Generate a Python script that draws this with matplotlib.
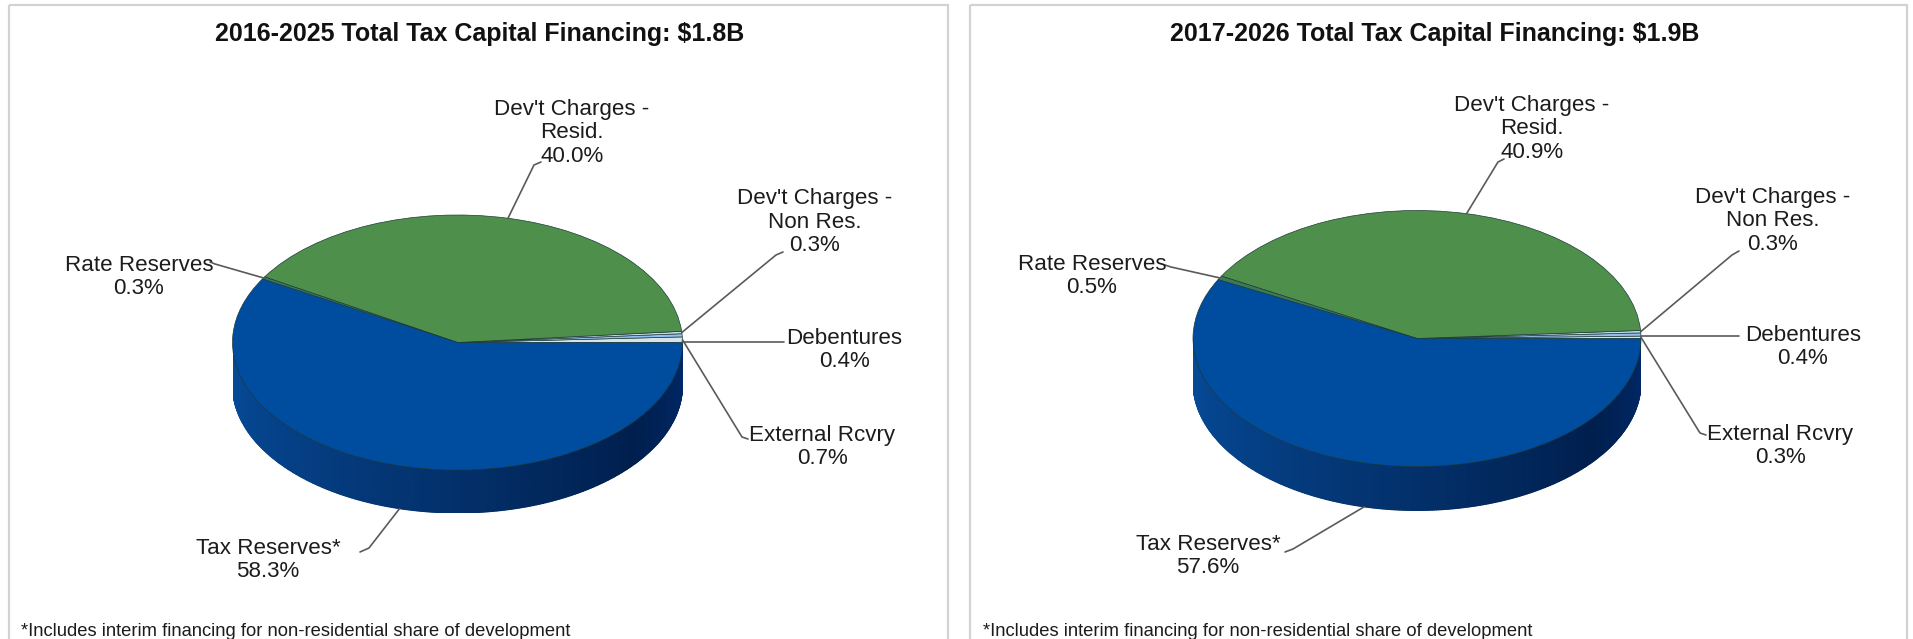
import numpy as np
import matplotlib
matplotlib.use("Agg")
import matplotlib.pyplot as plt
from matplotlib.colors import LinearSegmentedColormap
from matplotlib.patches import Rectangle

plt.rcParams['font.family'] = ['Liberation Sans', 'DejaVu Sans']

W, H = 1913, 639

# ---- data (counter-clockwise from 3 o'clock)
categories = ["External Rcvry", "Debentures", "Dev't Charges -\nNon Res.",
              "Dev't Charges -\nResid.", "Rate Reserves", "Tax Reserves*"]
values_2016 = [0.7, 0.4, 0.3, 40.0, 0.3, 58.3]
values_2017 = [0.3, 0.4, 0.3, 40.9, 0.5, 57.6]
title_2016 = "2016-2025 Total Tax Capital Financing: $1.8B"
title_2017 = "2017-2026 Total Tax Capital Financing: $1.9B"
footnote = "*Includes interim financing for non-residential share of development"

# ---- style
colors = ["#d5e3ec", "#93bfec", "#c6dae8", "#4f8f4c", "#3a7a55", "#004c9f"]
side_cmap = LinearSegmentedColormap.from_list(
    "side", [(0.0, "#064c9b"), (0.25, "#053f84"), (0.5, "#03306a"),
             (0.78, "#001f4e"), (1.0, "#00296a")])
TEXT = "#1c1c1c"
LINE = "#5a5a5a"
FS = 16.1

left = dict(values=values_2016, title=title_2016, cx=457.5, cy=342.5, rx=225, ry=127.5, depth=43,
            frame=(9, 948), title_x=479.5, foot_x=21,
            label_xy=[(822, 447), (844, 350), (815, 222), (572, 133), (139, 277), (268, 560)],
            elbow=[[(742, 437), (748, 439)], [(784, 342)], [(776, 255), (783, 252)],
                   [(534, 165), (541, 162)], [(215, 264), (210, 262)], [(369, 548), (360, 552)]])
right = dict(values=values_2017, title=title_2017, cx=1417, cy=338.5, rx=224, ry=128, depth=44,
             frame=(970, 1907), title_x=1435, foot_x=983,
             label_xy=[(1780, 446), (1803, 347), (1773, 221), (1532, 129), (1092, 276), (1208, 556)],
             elbow=[[(1700, 433), (1706, 435)], [(1739, 336)], [(1732, 255), (1739, 251)],
                    [(1498, 162), (1504, 159)], [(1171, 267), (1165, 265)], [(1293, 549), (1285, 552)]])

fig = plt.figure(figsize=(W / 100, H / 100), dpi=100, facecolor="white")
bg = fig.add_axes([0, 0, 1, 1])
bg.set_xlim(0, W)
bg.set_ylim(H, 0)
bg.axis("off")


def draw_panel(p):
    cx, cy, rx, ry, d = p["cx"], p["cy"], p["rx"], p["ry"], p["depth"]
    x0, x1 = p["frame"]
    bg.add_patch(Rectangle((x0, 5), x1 - x0, H + 20, fill=False, ec="#d2d2d2", lw=1.6, zorder=1))

    # pie axes: bbox spans the ellipse plus the wall, in pixel placement
    ax = fig.add_axes([(cx - rx) / W, 1 - (cy + ry + d) / H, 2 * rx / W, (2 * ry + d) / H], zorder=2)
    dn = d / ry
    vals = np.array(p["values"], dtype=float)
    wedges, _ = ax.pie(vals, colors=colors, startangle=0, counterclock=True, radius=1,
                       wedgeprops=dict(edgecolor="#1d3b3a", linewidth=0.5, zorder=3), normalize=True)
    ax.set_aspect("auto")
    ax.set_xlim(-1, 1)
    ax.set_ylim(-1 - dn, 1)

    # wall below the front wedge, shaded by angle
    t = np.radians(np.linspace(180, 360, 361))
    X = np.vstack([np.cos(t), np.cos(t)])
    Y = np.vstack([np.sin(t), np.sin(t) - dn])
    C = np.vstack([np.linspace(0, 1, t.size)] * 2)
    ax.pcolormesh(X, Y, C, shading="gouraud", cmap=side_cmap, vmin=0, vmax=1, zorder=2)

    # labels and leader lines
    edges = np.concatenate([[0], np.cumsum(vals)]) / vals.sum() * 2 * np.pi
    mids = (edges[:-1] + edges[1:]) / 2
    for i, (cat, v) in enumerate(zip(categories, vals)):
        tx, ty = p["label_xy"][i]
        bg.text(tx, ty, f"{cat}\n{v:.1f}%", ha="center", va="center", ma="center",
                fontsize=FS, color=TEXT, linespacing=1.16, zorder=6)
        ax_x = cx + rx * np.cos(mids[i])
        ax_y = cy - ry * np.sin(mids[i])
        if np.sin(mids[i]) < -0.5:
            ax_y += d
        pts = [(ax_x, ax_y)] + p["elbow"][i]
        if cat.startswith("Debentures"):
            pts = [(ax_x, pts[1][1]), pts[1]]
        xs, ys = zip(*pts)
        bg.plot(xs, ys, color=LINE, lw=1.2, zorder=5, solid_capstyle="round")

    bg.text(p["title_x"], 34, p["title"], ha="center", va="center", fontsize=18,
            fontweight="bold", color="#111111", zorder=6)
    bg.text(p["foot_x"], 631, footnote, ha="left", va="center", fontsize=13.25, color=TEXT, zorder=6)


draw_panel(left)
draw_panel(right)
bg.set_zorder(5)
bg.patch.set_visible(False)
fig.savefig("out.png", dpi=100, facecolor="white")
